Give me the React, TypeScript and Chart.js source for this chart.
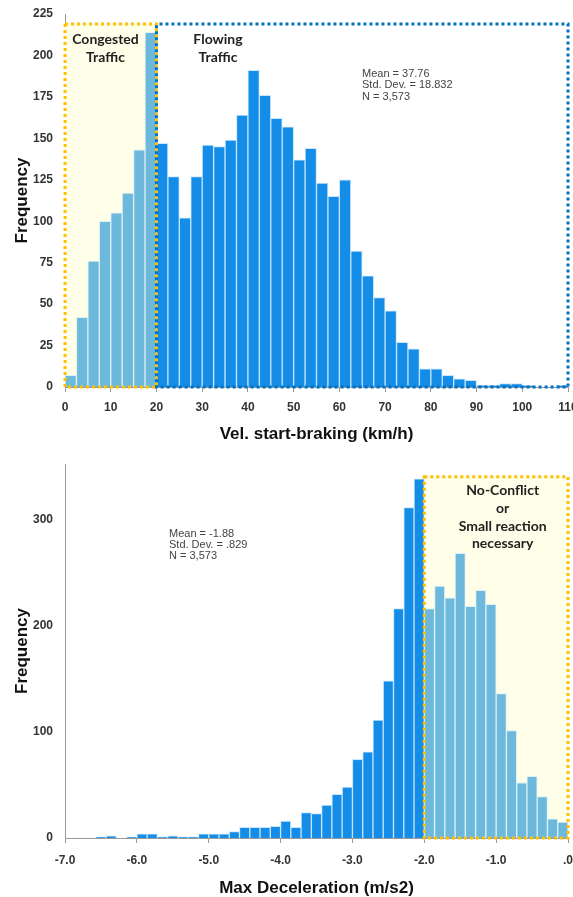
import React, { useEffect, useRef } from "react";
import { Chart, registerables } from "chart.js";

Chart.register(...registerables);

// ---------- Top chart: Vel. start-braking (km/h) ----------
const SPEED_BIN_WIDTH = 2.5;
const SPEED_CONGESTED_START = 0;
const SPEED_CONGESTED = [7, 42, 76, 100, 105, 117, 143, 214];
const SPEED_FLOWING_START = 20;
const SPEED_FLOWING = [
  147, 127, 102, 127, 146, 145, 149, 164, 191, 176, 162, 157, 137, 144, 123, 115,
  125, 82, 67, 54, 46, 27, 23, 11, 11, 7, 5, 4, 1, 1, 2, 2, 1, 0, 0, 1,
];
const SPEED_X_TICKS = [0, 10, 20, 30, 40, 50, 60, 70, 80, 90, 100, 110];
const SPEED_Y_TICKS = [0, 25, 50, 75, 100, 125, 150, 175, 200, 225];
const SPEED_STATS = ["Mean = 37.76", "Std. Dev. = 18.832", "N = 3,573"];

// ---------- Bottom chart: Max Deceleration (m/s2) ----------
const DECEL_BIN_WIDTH = 1 / 7;
const DECEL_HARD_START = -7;
const DECEL_HARD = [
  0, 0, 0, 1, 2, 0, 1, 4, 4, 1, 2, 1, 1, 4,
  4, 4, 6, 10, 10, 10, 11, 16, 10, 24, 23, 31, 41, 48,
  74, 81, 111, 148, 216, 311, 338,
];
const DECEL_SOFT_START = -2;
const DECEL_SOFT = [216, 237, 226, 268, 218, 233, 220, 136, 101, 52, 58, 39, 18, 15];
const DECEL_X_TICKS = [-7, -6, -5, -4, -3, -2, -1, 0];
const DECEL_Y_TICKS = [0, 100, 200, 300];
const DECEL_STATS = ["Mean = -1.88", "Std. Dev. = .829", "N = 3,573"];

const DARK = "#138de8";
const DARK_BORDER = "rgba(190,225,250,0.85)";
const LIGHT = "#6cb9dc";
const LIGHT_BORDER = "rgba(215,238,248,0.85)";
const YELLOW = "#ffc000";
const YELLOW_FILL = "#fffee9";
const BLUE_DOT = "#0070c0";
const AXIS = "#9a9a9a";

const SANS = '"Liberation Sans", Arial, sans-serif';
const LABEL_FONT = "bold 14px Lato, 'Open Sans', sans-serif";
const STATS_FONT = '11px "Liberation Sans", Arial, sans-serif';

type Box = { x0: number; x1: number; y0: number; y1: number; stroke: string; fill?: string; dashOffset: number };
type Txt = { text: string; x: number; y: number; font: string; align: CanvasTextAlign; color: string };

function makeAnnot(boxes: Box[], texts: Txt[]) {
  return {
    id: "annot",
    beforeDatasetsDraw(chart: any) {
      const { ctx, scales } = chart;
      const x = scales.x, y = scales.y;
      ctx.save();
      for (const b of boxes) {
        if (!b.fill) continue;
        const px0 = x.getPixelForValue(b.x0), px1 = x.getPixelForValue(b.x1);
        const py0 = y.getPixelForValue(b.y0), py1 = y.getPixelForValue(b.y1);
        ctx.fillStyle = b.fill;
        ctx.fillRect(px0, py1, px1 - px0, py0 - py1);
      }
      ctx.restore();
    },
    afterDatasetsDraw(chart: any) {
      const { ctx, scales } = chart;
      const x = scales.x, y = scales.y;
      ctx.save();
      for (const b of boxes) {
        const px0 = x.getPixelForValue(b.x0), px1 = x.getPixelForValue(b.x1);
        const py0 = y.getPixelForValue(b.y0), py1 = y.getPixelForValue(b.y1);
        ctx.strokeStyle = b.stroke;
        ctx.lineWidth = 3;
        ctx.setLineDash([3, 3]);
        ctx.lineDashOffset = b.dashOffset;
        ctx.beginPath();
        ctx.moveTo(px0, py1);
        ctx.lineTo(px1, py1);
        ctx.lineTo(px1, py0);
        ctx.lineTo(px0, py0);
        ctx.closePath();
        ctx.stroke();
      }
      ctx.setLineDash([]);
      ctx.textBaseline = "middle";
      for (const t of texts) {
        ctx.font = t.font;
        ctx.fillStyle = t.color;
        ctx.textAlign = t.align;
        ctx.fillText(t.text, t.x, t.y);
      }
      ctx.restore();
    },
  };
}

function binPoints(start: number, width: number, values: number[]) {
  return values.map((v, i) => ({ x: start + (i + 0.5) * width, y: v }));
}

function barDataset(start: number, width: number, values: number[], color: string, border: string) {
  return {
    data: binPoints(start, width, values),
    backgroundColor: color,
    borderColor: border,
    borderWidth: 1,
    grouped: false,
    barPercentage: 1,
    categoryPercentage: 1,
  };
}

function baseOptions(o: {
  xMin: number; xMax: number; xTicks: number[]; xFmt: (v: number) => string; xTitle: string;
  yMax: number; yTicks: number[]; xHeight: number; xTickPad: number; xTitlePad: number;
}) {
  return {
    animation: false,
    responsive: false,
    maintainAspectRatio: false,
    layout: { padding: { top: 14, right: 5, left: 0, bottom: 0 } },
    plugins: { legend: { display: false }, tooltip: { enabled: false } },
    scales: {
      x: {
        type: "linear",
        min: o.xMin,
        max: o.xMax,
        offset: false,
        grid: { display: true, drawOnChartArea: false, drawTicks: true, tickLength: 5, color: AXIS, offset: false },
        border: { display: true, color: AXIS, width: 1 },
        afterBuildTicks: (s: any) => { s.ticks = o.xTicks.map((v) => ({ value: v })); },
        ticks: {
          autoSkip: false,
          maxRotation: 0,
          padding: o.xTickPad,
          color: "#333",
          font: { family: SANS, size: 12, weight: "bold" },
          callback: (v: any) => o.xFmt(Number(v)),
        },
        title: {
          display: true,
          text: o.xTitle,
          color: "#111",
          font: { family: SANS, size: 17, weight: "bold" },
          padding: { top: 0, bottom: o.xTitlePad },
        },
        afterFit: (s: any) => { s.height = o.xHeight; s.paddingLeft = 0; s.paddingRight = 0; },
      },
      y: {
        min: 0,
        max: o.yMax,
        grid: { display: false },
        border: { display: true, color: AXIS, width: 1 },
        afterBuildTicks: (s: any) => { s.ticks = o.yTicks.map((v) => ({ value: v })); },
        ticks: {
          padding: 4,
          color: "#333",
          font: { family: SANS, size: 12, weight: "bold" },
        },
        title: {
          display: true,
          text: "Frequency",
          color: "#111",
          font: { family: SANS, size: 17, weight: "bold" },
          padding: { top: 12, bottom: 0 },
        },
        afterFit: (s: any) => { s.width = 65; s.paddingTop = 0; s.paddingBottom = 0; },
      },
    },
  };
}

function SpeedChart() {
  const ref = useRef<HTMLCanvasElement>(null);
  useEffect(() => {
    const boxes: Box[] = [
      { x0: 0, x1: 20, y0: 0, y1: 219, stroke: YELLOW, fill: YELLOW_FILL, dashOffset: 0 },
      { x0: 20, x1: 110, y0: 0, y1: 219, stroke: BLUE_DOT, dashOffset: 3 },
    ];
    const texts: Txt[] = [
      { text: "Congested", x: 105.5, y: 39, font: LABEL_FONT, align: "center", color: "#222" },
      { text: "Traffic", x: 105.5, y: 57, font: LABEL_FONT, align: "center", color: "#222" },
      { text: "Flowing", x: 218, y: 39, font: LABEL_FONT, align: "center", color: "#222" },
      { text: "Traffic", x: 218, y: 57, font: LABEL_FONT, align: "center", color: "#222" },
      ...SPEED_STATS.map((s, i) => ({ text: s, x: 362, y: 73.5 + i * 11.5, font: STATS_FONT, align: "left" as CanvasTextAlign, color: "#444" })),
    ];
    const chart = new Chart(ref.current!, {
      type: "bar",
      data: {
        datasets: [
          barDataset(SPEED_CONGESTED_START, SPEED_BIN_WIDTH, SPEED_CONGESTED, LIGHT, LIGHT_BORDER),
          barDataset(SPEED_FLOWING_START, SPEED_BIN_WIDTH, SPEED_FLOWING, DARK, DARK_BORDER),
        ],
      } as any,
      options: baseOptions({
        xMin: 0, xMax: 110, xTicks: SPEED_X_TICKS, xFmt: (v) => String(v), xTitle: "Vel. start-braking (km/h)",
        yMax: 225, yTicks: SPEED_Y_TICKS, xHeight: 63, xTickPad: 8, xTitlePad: 5,
      }) as any,
      plugins: [makeAnnot(boxes, texts)],
    });
    return () => chart.destroy();
  }, []);
  return <canvas ref={ref} width={573} height={450} style={{ position: "absolute", left: 0, top: 0, width: 573, height: 450 }} />;
}

function DecelChart() {
  const ref = useRef<HTMLCanvasElement>(null);
  useEffect(() => {
    const boxes: Box[] = [
      { x0: -2, x1: 0, y0: 0, y1: 340, stroke: YELLOW, fill: YELLOW_FILL, dashOffset: 0 },
    ];
    const lab = (text: string, y: number): Txt => ({ text, x: 502.7, y, font: LABEL_FONT, align: "center", color: "#222" });
    const texts: Txt[] = [
      lab("No-Conflict", 40),
      lab("or", 58),
      lab("Small reaction", 76),
      lab("necessary", 93.5),
      ...DECEL_STATS.map((s, i) => ({ text: s, x: 169, y: 83.5 + i * 11.3, font: STATS_FONT, align: "left" as CanvasTextAlign, color: "#444" })),
    ];
    const chart = new Chart(ref.current!, {
      type: "bar",
      data: {
        datasets: [
          barDataset(DECEL_HARD_START, DECEL_BIN_WIDTH, DECEL_HARD, DARK, DARK_BORDER),
          barDataset(DECEL_SOFT_START, DECEL_BIN_WIDTH, DECEL_SOFT, LIGHT, LIGHT_BORDER),
        ],
      } as any,
      options: baseOptions({
        xMin: -7, xMax: 0, xTicks: DECEL_X_TICKS,
        xFmt: (v) => (v === 0 ? ".0" : v.toFixed(1)),
        xTitle: "Max Deceleration (m/s2)",
        yMax: 352, yTicks: DECEL_Y_TICKS, xHeight: 59, xTickPad: 10, xTitlePad: -2,
      }) as any,
      plugins: [makeAnnot(boxes, texts)],
    });
    return () => chart.destroy();
  }, []);
  return <canvas ref={ref} width={573} height={447} style={{ position: "absolute", left: 0, top: 450, width: 573, height: 447 }} />;
}

export default function App() {
  return (
    <div style={{ position: "fixed", left: 0, top: 0, width: 573, height: 897, background: "#fff", overflow: "hidden" }}>
      <SpeedChart />
      <DecelChart />
    </div>
  );
}
